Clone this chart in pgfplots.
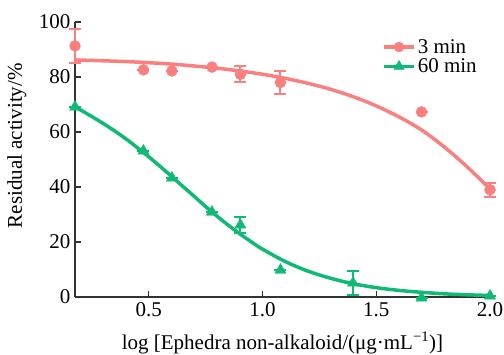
\documentclass[border=0pt]{standalone}
\usepackage{fontspec}
\setmainfont{Liberation Serif}
\usepackage{pgfplots}
\pgfplotsset{compat=1.18}
\definecolor{cred}{RGB}{250,128,128}
\definecolor{cgreen}{RGB}{16,186,116}
\begin{document}
\begin{tikzpicture}[x=1bp,y=1bp]
\useasboundingbox (-75bp,-58bp) rectangle (429bp,297bp);
\begin{axis}[
  at={(0,0)}, anchor=origin,
  scale only axis,
  width=415bp, height=275bp,
  xmin=0.176, xmax=2.0, ymin=0, ymax=100,
  axis lines=left,
  axis line style={line width=1.2bp, color=black!80, -},
  xtick={0.5,1.0,1.5,2.0},
  ytick={0,20,40,60,80,100},
  tick align=inside,
  major tick length=6bp,
  tick style={line width=1.1bp, color=black!80},
  xticklabel style={yshift=-2bp, /pgf/number format/.cd, fixed, fixed zerofill, precision=1},
  /pgf/number format/assume math mode=true,
  tick label style={font=\rmfamily\fontsize{21bp}{23bp}\selectfont},
  yticklabel style={xshift=-1bp},
  label style={font=\rmfamily\fontsize{21bp}{23bp}\selectfont},
  xlabel={log [Ephedra non-alkaloid/(μg·mL\textsuperscript{−1})]},
  ylabel={Residual activity/\%},
  xlabel style={at={(axis description cs:0.5,-0.167)}, anchor=center},
  ylabel style={at={(axis description cs:-0.14,0.55)}, anchor=center},
  clip=false,
  legend style={draw=none, fill=none, at={(0.74,0.945)}, anchor=north west,
    font=\rmfamily\fontsize{21bp}{22bp}\selectfont, row sep=0bp, inner sep=0pt,
    /tikz/every even column/.append style={column sep=6bp}},
  legend cell align=left,
  legend image code/.code={
    \draw[#1, line width=3.5bp] (0bp,0bp) -- (30bp,0bp);
    \draw[#1, mark repeat=2, mark phase=2] plot coordinates {(0bp,0bp) (15bp,0bp) (30bp,0bp)};
  },
]
% legend carriers
\addlegendimage{cred, mark=*, mark size=5bp, mark options={solid, fill=cred, draw=cred}}
\addlegendentry{3 min}
\addlegendimage{cgreen, mark=triangle*, mark size=6bp, mark options={solid, fill=cgreen, draw=cgreen}}
\addlegendentry{60 min}
% fitted curves
\addplot[cred, line width=3.5bp, smooth, forget plot] coordinates {
(0.176,86.2) (0.3,85.9) (0.4,85.6) (0.5,85.2) (0.6,84.7) (0.7,84.0) (0.8,83.2)
(0.9,82.2) (1.0,81.0) (1.1,79.5) (1.2,77.7) (1.3,75.5) (1.4,72.8) (1.5,69.5)
(1.6,65.5) (1.7,60.7) (1.8,54.5) (1.9,47.3) (2.0,39.3)};
\addplot[cgreen, line width=3.5bp, smooth, forget plot] coordinates {
(0.176,69.2) (0.25,65.6) (0.3,63.1) (0.35,60.4) (0.4,57.5) (0.45,54.3) (0.5,51.0)
(0.55,47.5) (0.6,43.9) (0.65,40.2) (0.7,36.6) (0.75,32.9) (0.8,29.4) (0.85,26.1)
(0.9,23.0) (0.95,20.1) (1.0,17.4) (1.1,12.9) (1.2,9.4) (1.3,6.8) (1.4,4.8)
(1.5,3.4) (1.6,2.4) (1.7,1.7) (1.8,1.15) (1.9,0.8) (2.0,0.56)};
% data points with error bars
\addplot[cred, only marks, mark=*, mark size=5.5bp, forget plot,
  error bars/.cd, y dir=both, y explicit,
  error mark options={rotate=90, mark size=6bp, line width=2bp, cred},
  error bar style={line width=2bp, cred}]
  coordinates {
(0.176,91.3) +- (0,6.2)
(0.477,82.6) +- (0,0)
(0.602,82.2) +- (0,0)
(0.778,83.6) +- (0,0)
(0.903,81.0) +- (0,3.0)
(1.079,78.0) +- (0,4.2)
(1.699,67.3) +- (0,0)
(2.0,39.0) +- (0,2.5)};
\addplot[cgreen, only marks, mark=triangle*, mark size=6.5bp, forget plot,
  error bars/.cd, y dir=both, y explicit,
  error mark options={rotate=90, mark size=6bp, line width=2bp, cgreen},
  error bar style={line width=2bp, cgreen}]
  coordinates {
(0.176,69.1) +- (0,0)
(0.477,53.1) +- (0,0)
(0.602,43.3) +- (0,0)
(0.778,30.9) +- (0,0)
(0.903,26.2) +- (0,3.0)
(1.079,9.8) +- (0,0)
(1.398,5.1) +- (0,4.4)
(1.699,-0.3) +- (0,0)
(2.0,0.4) +- (0,0)};
\end{axis}
\end{tikzpicture}
\end{document}
